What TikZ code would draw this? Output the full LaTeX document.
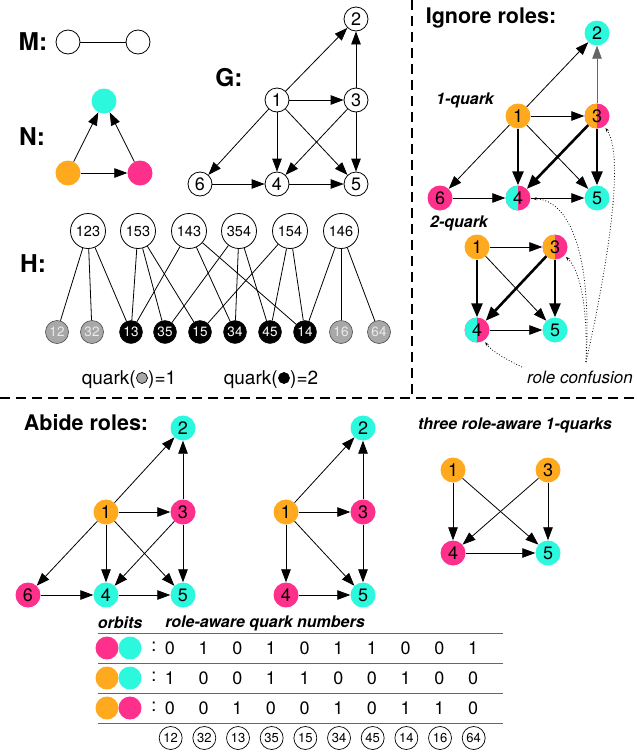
\documentclass[tikz,border=0pt]{standalone}
\usepackage{fontspec}
\setmainfont{TeX Gyre Heros}
\usetikzlibrary{arrows.meta}
\definecolor{cy}{HTML}{2CF8DD}
\definecolor{oc}{HTML}{FFA91E}
\definecolor{pk}{HTML}{FF2F8C}
\definecolor{qgray}{HTML}{A8A8A8}
\begin{document}
\begin{tikzpicture}[x=1pt,y=-1pt,
  lab/.style={font=\fontsize{24.5}{24.5}\selectfont\bfseries},
  ttl/.style={font=\fontsize{21.5}{21.5}\selectfont\bfseries},
  sub/.style={font=\fontsize{16}{16}\selectfont\bfseries\itshape},
  wn/.style={circle,draw,line width=0.8pt,minimum size=24pt,inner sep=0pt,font=\fontsize{18}{18}\selectfont},
  cn/.style={circle,fill=#1,minimum size=25pt,inner sep=0pt,font=\fontsize{18}{18}\selectfont},
  hn/.style 2 args={circle,fill=#2,minimum size=25pt,inner sep=0pt,font=\fontsize{18}{18}\selectfont,
     path picture={\fill[#1] (path picture bounding box.south west) rectangle (path picture bounding box.north);}},
  tn/.style={circle,draw,line width=0.8pt,minimum size=35pt,inner sep=0pt,font=\fontsize{14.5}{14.5}\selectfont},
  qg/.style={circle,draw=black!70,line width=0.6pt,fill=qgray,text=black!8,minimum size=23pt,inner sep=0pt,font=\fontsize{13.5}{13.5}\selectfont},
  qb/.style={circle,draw,fill=black,text=white,minimum size=23pt,inner sep=0pt,font=\fontsize{13.5}{13.5}\selectfont},
  ar/.style={-{Triangle[length=13pt,width=9.5pt]},line width=0.8pt},
  tk/.style={-{Triangle[length=14pt,width=11pt]},line width=2.6pt},
  hl/.style={line width=0.8pt},
  dt/.style={dotted,line width=0.8pt,-{Stealth[length=4pt,width=3pt]},shorten >=2pt},
  sep/.style={line width=2.4pt,dash pattern=on 10pt off 6pt},
  pc/.style={circle,draw,line width=0.7pt,minimum width=23pt,minimum height=22pt,inner sep=0pt,font=\fontsize{13}{13}\selectfont},
  num/.style={font=\fontsize{18}{18}\selectfont},
  leg/.style={font=\fontsize{19}{19}\selectfont}
]
\useasboundingbox (0,0) rectangle (637,755);

% separators
\draw[sep] (412,0) -- (412,398);
\draw[sep] (0,398) -- (637,398);

% M
\node[lab] (Ml) at (33,42) {M:};
\node[wn] (m1) at (68,42) {};
\node[wn] (m2) at (138,42) {};
\draw[hl] (m1) -- (m2);

% N
\node[lab] (Nl) at (32,137) {N:};
\node[cn=cy] (n3) at (104,101) {};
\node[cn=oc] (n1) at (68,173) {};
\node[cn=pk] (n2) at (140,173) {};
\draw[ar] (n1) -- (n3);
\draw[ar] (n2) -- (n3);
\draw[ar] (n1) -- (n2);

% G
\node[lab] (Gl) at (229,78) {G:};
\node[wn] (g2) at (356,19) {2};
\node[wn] (g1) at (277,100) {1};
\node[wn] (g3) at (356,100) {3};
\node[wn] (g6) at (200,184) {6};
\node[wn] (g4) at (277,184) {4};
\node[wn] (g5) at (356,184) {5};
\foreach \a/\b in {1/2,3/2,1/3,1/6,1/4,1/5,3/4,3/5,6/4,4/5}
  \draw[ar] (g\a) -- (g\b);

% H
\node[lab] (Hl) at (33,264) {H:};
\node[tn] (h123) at (88,231) {123};
\node[tn] (h153) at (138,231) {153};
\node[tn] (h143) at (189,231) {143};
\node[tn] (h354) at (239,231) {354};
\node[tn] (h154) at (290,231) {154};
\node[tn] (h146) at (341,231) {146};
\node[qg] (q12) at (57,332) {12};
\node[qg] (q32) at (92,332) {32};
\node[qb] (q13) at (131,332) {13};
\node[qb] (q35) at (165,332) {35};
\node[qb] (q15) at (200,332) {15};
\node[qb] (q34) at (235,332) {34};
\node[qb] (q45) at (270,332) {45};
\node[qb] (q14) at (305,332) {14};
\node[qg] (q16) at (341,332) {16};
\node[qg] (q64) at (379,332) {64};
\foreach \a/\b in {123/12,123/32,123/13,153/13,153/35,153/15,143/13,143/34,143/14,
                   354/35,354/34,354/45,154/15,154/45,154/14,146/14,146/16,146/64}
  \draw[hl] (h\a) -- (q\b);

% legend
\node[leg,anchor=base east,inner sep=0pt] (la1) at (136,384) {quark(};
\node[circle,draw,line width=0.7pt,fill=qgray,minimum size=11pt,inner sep=0pt] (lc1) at (142,378) {};
\node[leg,anchor=base west,inner sep=0pt] (lb1) at (148,384) {)=1};
\node[leg,anchor=base east,inner sep=0pt] (la2) at (278,384) {quark(};
\node[circle,draw,line width=0.7pt,fill=black,minimum size=11pt,inner sep=0pt] (lc2) at (284,378) {};
\node[leg,anchor=base west,inner sep=0pt] (lb2) at (290,384) {)=2};

% Ignore roles
\node[ttl] (Il) at (491,18) {Ignore roles:};
\node[sub] (q1l) at (465,100) {1-quark};
\node[cn=cy] (i2) at (597,33) {2};
\node[cn=oc] (i1) at (518,116) {1};
\node[hn={oc}{pk}] (i3) at (597,116) {3};
\node[cn=pk] (i6) at (440,198) {6};
\node[hn={cy}{pk}] (i4) at (518,198) {4};
\node[cn=cy] (i5) at (597,198) {5};
\draw[ar] (i1) -- (i2);
\draw[ar,draw=black!60] (i3) -- (i2);
\draw[ar] (i1) -- (i3);
\draw[ar] (i1) -- (i6);
\draw[ar] (i1) -- (i5);
\draw[ar] (i6) -- (i4);
\draw[ar] (i4) -- (i5);
\draw[tk] (i1) -- (i4);
\draw[tk] (i3) -- (i4);
\draw[tk] (i3) -- (i5);

\node[sub] (q2l) at (459,223) {2-quark};
\node[cn=oc] (j1) at (477,247) {1};
\node[hn={oc}{pk}] (j3) at (555,247) {3};
\node[hn={cy}{pk}] (j4) at (477,330) {4};
\node[cn=cy] (j5) at (555,330) {5};
\draw[ar] (j1) -- (j3);
\draw[ar] (j1) -- (j5);
\draw[ar] (j4) -- (j5);
\draw[tk] (j1) -- (j4);
\draw[tk] (j3) -- (j4);
\draw[tk] (j3) -- (j5);

\node[font=\fontsize{17}{17}\selectfont\itshape,anchor=west,inner sep=0pt] (rcl) at (527,377) {role confusion};
\coordinate (rc) at (586,362);
\coordinate (rcL) at (522,367);
\draw[dt] (rcL) .. controls (508,360) and (492,352) .. (j4);
\draw[dt] (rc) .. controls (588,300) and (578,268) .. (j3);
\draw[dt] (rc) .. controls (592,260) and (572,200) .. (i4);
\draw[dt] (rc) .. controls (600,300) and (628,160) .. (i3);

% Abide roles
\node[ttl] (Al) at (86,423) {Abide roles:};
\node[cn=cy] (a2) at (183,428) {2};
\node[cn=oc] (a1) at (106,512) {1};
\node[cn=pk] (a3) at (183,512) {3};
\node[cn=pk] (a6) at (28,595) {6};
\node[cn=cy] (a4) at (106,595) {4};
\node[cn=cy] (a5) at (183,595) {5};
\foreach \a/\b in {1/2,3/2,1/3,1/6,1/4,1/5,3/4,3/5,6/4,4/5}
  \draw[ar] (a\a) -- (a\b);

\node[cn=cy] (b2) at (363,428) {2};
\node[cn=oc] (b1) at (286,512) {1};
\node[cn=pk] (b3) at (363,512) {3};
\node[cn=pk] (b4) at (286,595) {4};
\node[cn=cy] (b5) at (363,595) {5};
\foreach \a/\b in {1/2,3/2,1/3,1/4,1/5,3/5,4/5}
  \draw[ar] (b\a) -- (b\b);

\node[sub] (Tl) at (515,425) {three role-aware 1-quarks};
\node[cn=oc] (c1) at (453,470) {1};
\node[cn=oc] (c3) at (548,470) {3};
\node[cn=pk] (c4) at (453,553) {4};
\node[cn=cy] (c5) at (548,553) {5};
\foreach \a/\b in {1/4,1/5,3/4,3/5,4/5}
  \draw[ar] (c\a) -- (c\b);

% table
\node[sub] (orb) at (120,623) {orbits};
\node[sub] (raq) at (265,623) {role-aware quark numbers};
\foreach \yy in {633,663,693,723}
  \draw[line width=1pt,black!60] (98,\yy) -- (503,\yy);
\node[cn=pk,minimum size=23pt] (o1a) at (107,648) {};
\node[cn=cy,minimum size=23pt] (o1b) at (130,648) {};
\node[cn=oc,minimum size=23pt] (o2a) at (107,678) {};
\node[cn=cy,minimum size=23pt] (o2b) at (130,678) {};
\node[cn=oc,minimum size=23pt] (o3a) at (107,708) {};
\node[cn=pk,minimum size=23pt] (o3b) at (130,708) {};
\foreach \r/\yy/\vals in {1/648/{0,1,0,1,0,1,1,0,0,1},2/678/{1,0,0,1,1,0,0,1,0,0},3/708/{0,0,1,0,0,1,0,1,1,0}}{
  \node[num] (col\r) at (154,\yy-1) {:};
  \foreach \v [count=\i] in \vals {
    \pgfmathsetmacro\xx{136.3+33.67*\i}
    \node[num] (t\r-\i) at (\xx,\yy) {\v};
  }
}
\foreach \p [count=\i] in {12,32,13,35,15,34,45,14,16,64}{
  \pgfmathsetmacro\xx{137+33.67*\i}
  \node[pc] (pc\i) at (\xx,738) {\p};
}
\end{tikzpicture}
\end{document}
